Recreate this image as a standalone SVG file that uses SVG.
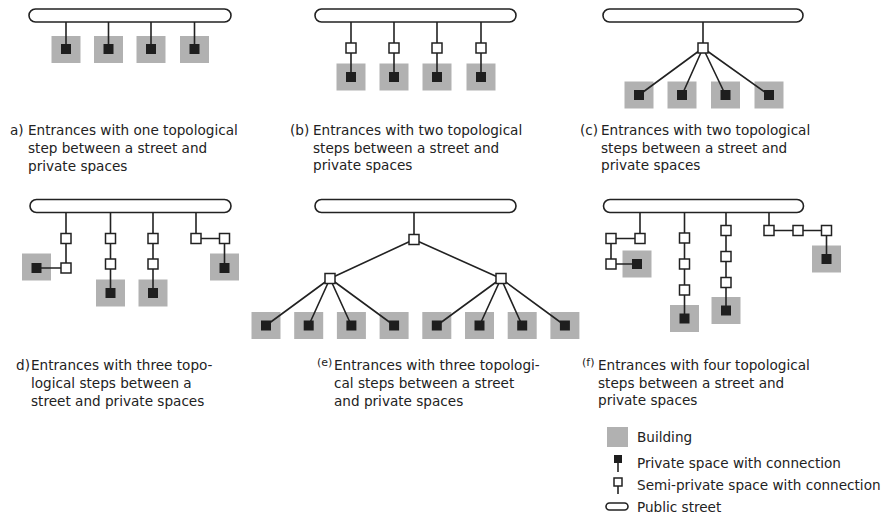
<svg xmlns="http://www.w3.org/2000/svg" width="883" height="515" viewBox="0 0 883 515">
<style>
  .street{fill:#fff;stroke:#222;stroke-width:1.6}
  .bld{fill:#b1b1b1}
  .priv{fill:#1e1e1e}
  .semi{fill:#fff;stroke:#222;stroke-width:1.5}
  .con{stroke:#222;stroke-width:1.6;fill:none}
  text{font-family:"DejaVu Sans","Open Sans",sans-serif;font-size:13.6px;fill:#222}
  .sup{font-size:11px}
</style>
<rect width="883" height="515" fill="#fff"/>

<!-- buildings (backgrounds) -->
<g id="buildings">
  <rect id="bld-a1" class="bld" x="51.5" y="36" width="29" height="27"/>
  <rect id="bld-a2" class="bld" x="94" y="36" width="29" height="27"/>
  <rect id="bld-a3" class="bld" x="136.5" y="36" width="29" height="27"/>
  <rect id="bld-a4" class="bld" x="180" y="36" width="29" height="27"/>
  <rect id="bld-b1" class="bld" x="336.5" y="63.5" width="29" height="27"/>
  <rect id="bld-b2" class="bld" x="379.5" y="63.5" width="29" height="27"/>
  <rect id="bld-b3" class="bld" x="422.5" y="63.5" width="29" height="27"/>
  <rect id="bld-b4" class="bld" x="466.5" y="63.5" width="29" height="27"/>
  <rect id="bld-c1" class="bld" x="624.5" y="81.5" width="29" height="27"/>
  <rect id="bld-c2" class="bld" x="667.5" y="81.5" width="29" height="27"/>
  <rect id="bld-c3" class="bld" x="711" y="81.5" width="29" height="27"/>
  <rect id="bld-c4" class="bld" x="754.5" y="81.5" width="29" height="27"/>
  <rect id="bld-d1" class="bld" x="22" y="253.5" width="29" height="27"/>
  <rect id="bld-d2" class="bld" x="96" y="279.5" width="29" height="27"/>
  <rect id="bld-d3" class="bld" x="138.5" y="279.5" width="29" height="27"/>
  <rect id="bld-d4" class="bld" x="210" y="253.5" width="29" height="27"/>
  <rect id="bld-e1" class="bld" x="251.5" y="312" width="29" height="27"/>
  <rect id="bld-e2" class="bld" x="294.2" y="312" width="29" height="27"/>
  <rect id="bld-e3" class="bld" x="336.9" y="312" width="29" height="27"/>
  <rect id="bld-e4" class="bld" x="379.6" y="312" width="29" height="27"/>
  <rect id="bld-e5" class="bld" x="422.3" y="312" width="29" height="27"/>
  <rect id="bld-e6" class="bld" x="465" y="312" width="29" height="27"/>
  <rect id="bld-e7" class="bld" x="507.7" y="312" width="29" height="27"/>
  <rect id="bld-e8" class="bld" x="550.4" y="312" width="29" height="27"/>
  <rect id="bld-f1" class="bld" x="622.5" y="250.5" width="29" height="27"/>
  <rect id="bld-f2" class="bld" x="670" y="305" width="29" height="27"/>
  <rect id="bld-f3" class="bld" x="711.5" y="297" width="29" height="27"/>
  <rect id="bld-f4" class="bld" x="812" y="245.5" width="29" height="27"/>
</g>

<!-- connectors -->
<g id="connectors" class="con">
  <!-- a -->
  <path d="M66 22V49M108.5 22V49M151 22V49M194.5 22V49"/>
  <!-- b -->
  <path d="M351 22V77M394 22V77M437 22V77M481 22V77"/>
  <!-- c -->
  <path d="M703 22V48M703 48L639 95M703 48L682 95M703 48L725.5 95M703 48L769 95"/>
  <!-- d -->
  <path d="M66 212.5V268H36.5"/>
  <path d="M110.5 212.5V293M153 212.5V293"/>
  <path d="M196 212.5V238.5H224.5V268"/>
  <!-- e -->
  <path d="M414 212.5V239.5M414 239.5L330 278.5M414 239.5L501 278.5"/>
  <path d="M330 278.5L266 325.5M330 278.5L308.7 325.5M330 278.5L351.4 325.5M330 278.5L394.1 325.5"/>
  <path d="M501 278.5L436.8 325.5M501 278.5L479.5 325.5M501 278.5L522.2 325.5M501 278.5L564.9 325.5"/>
  <!-- f -->
  <path d="M640 212.5V238.5H611V264H637"/>
  <path d="M684.5 212.5V318.5"/>
  <path d="M726 212.5V310.5"/>
  <path d="M769 212.5V230.5H826.5V259"/>
</g>

<!-- streets -->
<g id="street-a"><rect class="street" x="29" y="9" width="202" height="13" rx="6.5"/></g>
<g id="street-b"><rect class="street" x="315" y="9" width="201" height="13" rx="6.5"/></g>
<g id="street-c"><rect class="street" x="603" y="9" width="200" height="13" rx="6.5"/></g>
<g id="street-d"><rect class="street" x="30" y="199.5" width="201" height="13" rx="6.5"/></g>
<g id="street-e"><rect class="street" x="315" y="199.5" width="201" height="13" rx="6.5"/></g>
<g id="street-f"><rect class="street" x="603.5" y="199.5" width="200" height="13" rx="6.5"/></g>

<!-- semi-private nodes -->
<g id="semi-nodes">
  <rect id="s-b1" class="semi" x="346" y="43" width="10" height="10"/>
  <rect id="s-b2" class="semi" x="389" y="43" width="10" height="10"/>
  <rect id="s-b3" class="semi" x="432" y="43" width="10" height="10"/>
  <rect id="s-b4" class="semi" x="476" y="43" width="10" height="10"/>
  <rect id="s-c1" class="semi" x="698" y="43" width="10" height="10"/>
  <rect id="s-d1a" class="semi" x="61" y="233.5" width="10" height="10"/>
  <rect id="s-d1b" class="semi" x="61" y="263" width="10" height="10"/>
  <rect id="s-d2a" class="semi" x="105.5" y="233.5" width="10" height="10"/>
  <rect id="s-d2b" class="semi" x="105.5" y="259" width="10" height="10"/>
  <rect id="s-d3a" class="semi" x="148" y="233.5" width="10" height="10"/>
  <rect id="s-d3b" class="semi" x="148" y="259" width="10" height="10"/>
  <rect id="s-d4a" class="semi" x="191" y="233.5" width="10" height="10"/>
  <rect id="s-d4b" class="semi" x="219.5" y="233.5" width="10" height="10"/>
  <rect id="s-e0" class="semi" x="409" y="234.5" width="10" height="10"/>
  <rect id="s-e1" class="semi" x="325" y="273.5" width="10" height="10"/>
  <rect id="s-e2" class="semi" x="496" y="273.5" width="10" height="10"/>
  <rect id="s-f1a" class="semi" x="635" y="233.5" width="10" height="10"/>
  <rect id="s-f1b" class="semi" x="606" y="233.5" width="10" height="10"/>
  <rect id="s-f1c" class="semi" x="606" y="259" width="10" height="10"/>
  <rect id="s-f2a" class="semi" x="679.5" y="233" width="10" height="10"/>
  <rect id="s-f2b" class="semi" x="679.5" y="259" width="10" height="10"/>
  <rect id="s-f2c" class="semi" x="679.5" y="285" width="10" height="10"/>
  <rect id="s-f3a" class="semi" x="721" y="225.5" width="10" height="10"/>
  <rect id="s-f3b" class="semi" x="721" y="251.5" width="10" height="10"/>
  <rect id="s-f3c" class="semi" x="721" y="277.5" width="10" height="10"/>
  <rect id="s-f4a" class="semi" x="764" y="225.5" width="10" height="10"/>
  <rect id="s-f4b" class="semi" x="793" y="225.5" width="10" height="10"/>
  <rect id="s-f4c" class="semi" x="821.5" y="225.5" width="10" height="10"/>
</g>

<!-- private nodes -->
<g id="private-nodes">
  <rect id="p-a1" class="priv" x="61" y="44" width="10" height="10"/>
  <rect id="p-a2" class="priv" x="103.5" y="44" width="10" height="10"/>
  <rect id="p-a3" class="priv" x="146" y="44" width="10" height="10"/>
  <rect id="p-a4" class="priv" x="189.5" y="44" width="10" height="10"/>
  <rect id="p-b1" class="priv" x="346" y="72" width="10" height="10"/>
  <rect id="p-b2" class="priv" x="389" y="72" width="10" height="10"/>
  <rect id="p-b3" class="priv" x="432" y="72" width="10" height="10"/>
  <rect id="p-b4" class="priv" x="476" y="72" width="10" height="10"/>
  <rect id="p-c1" class="priv" x="634" y="90" width="10" height="10"/>
  <rect id="p-c2" class="priv" x="677" y="90" width="10" height="10"/>
  <rect id="p-c3" class="priv" x="720.5" y="90" width="10" height="10"/>
  <rect id="p-c4" class="priv" x="764" y="90" width="10" height="10"/>
  <rect id="p-d1" class="priv" x="31.5" y="263" width="10" height="10"/>
  <rect id="p-d2" class="priv" x="105.5" y="288" width="10" height="10"/>
  <rect id="p-d3" class="priv" x="148" y="288" width="10" height="10"/>
  <rect id="p-d4" class="priv" x="219.5" y="263" width="10" height="10"/>
  <rect id="p-e1" class="priv" x="261" y="320.5" width="10" height="10"/>
  <rect id="p-e2" class="priv" x="303.7" y="320.5" width="10" height="10"/>
  <rect id="p-e3" class="priv" x="346.4" y="320.5" width="10" height="10"/>
  <rect id="p-e4" class="priv" x="389.1" y="320.5" width="10" height="10"/>
  <rect id="p-e5" class="priv" x="431.8" y="320.5" width="10" height="10"/>
  <rect id="p-e6" class="priv" x="474.5" y="320.5" width="10" height="10"/>
  <rect id="p-e7" class="priv" x="517.2" y="320.5" width="10" height="10"/>
  <rect id="p-e8" class="priv" x="559.9" y="320.5" width="10" height="10"/>
  <rect id="p-f1" class="priv" x="632" y="259" width="10" height="10"/>
  <rect id="p-f2" class="priv" x="679.5" y="313.5" width="10" height="10"/>
  <rect id="p-f3" class="priv" x="721" y="305.5" width="10" height="10"/>
  <rect id="p-f4" class="priv" x="821.5" y="254" width="10" height="10"/>
</g>

<!-- captions -->
<g id="caption-a">
  <text x="10" y="135">a)</text>
  <text x="28" y="135">Entrances with one topological</text>
  <text x="28" y="153">step between a street and</text>
  <text x="28" y="171">private spaces</text>
</g>
<g id="caption-b">
  <text x="290" y="135">(b)</text>
  <text x="313" y="135">Entrances with two topological</text>
  <text x="313" y="153">steps between a street and</text>
  <text x="313" y="170">private spaces</text>
</g>
<g id="caption-c">
  <text x="580" y="135">(c)</text>
  <text x="601" y="135">Entrances with two topological</text>
  <text x="601" y="153">steps between a street and</text>
  <text x="601" y="170">private spaces</text>
</g>
<g id="caption-d">
  <text x="16" y="370">d)</text>
  <text x="31" y="370">Entrances with three topo-</text>
  <text x="31" y="388">logical steps between a</text>
  <text x="31" y="406">street and private spaces</text>
</g>
<g id="caption-e">
  <text class="sup" x="317" y="366">(e)</text>
  <text x="334" y="370">Entrances with three topologi-</text>
  <text x="334" y="388">cal steps between a street</text>
  <text x="334" y="406">and private spaces</text>
</g>
<g id="caption-f">
  <text class="sup" x="582" y="366">(f)</text>
  <text x="598" y="370">Entrances with four topological</text>
  <text x="598" y="388">steps between a street and</text>
  <text x="598" y="405">private spaces</text>
</g>

<!-- legend -->
<g id="legend">
  <g id="legend-building">
    <rect class="bld" x="607" y="427" width="21" height="20"/>
    <text x="637" y="442">Building</text>
  </g>
  <g id="legend-private">
    <line class="con" x1="618" y1="460" x2="618" y2="472"/>
    <rect class="priv" x="614" y="455" width="8" height="8"/>
    <text x="637" y="468">Private space with connection</text>
  </g>
  <g id="legend-semi">
    <line class="con" x1="618" y1="485" x2="618" y2="494"/>
    <rect class="semi" x="614" y="478" width="8" height="8"/>
    <text x="637" y="490">Semi-private space with connection</text>
  </g>
  <g id="legend-street">
    <rect class="street" x="606" y="503" width="22" height="7" rx="3.5"/>
    <text x="637" y="512">Public street</text>
  </g>
</g>
</svg>
